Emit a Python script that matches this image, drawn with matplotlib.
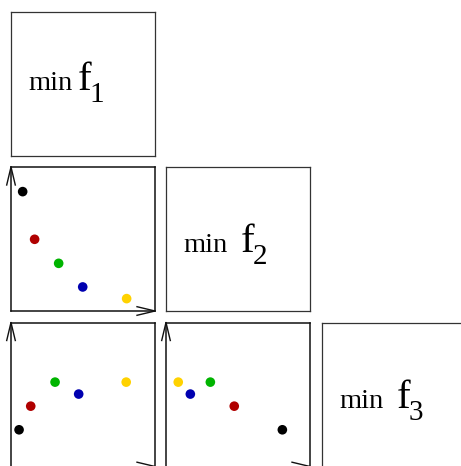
import matplotlib
matplotlib.use("Agg")
import matplotlib.pyplot as plt
from matplotlib.lines import Line2D

W, H = 461, 466

# colours of the five solutions
colors = ["#000000", "#b00000", "#00b400", "#0000b0", "#ffd200"]

# panel (row 2, col 1): x = f1, y = f2
f1_mid = [0.081, 0.164, 0.331, 0.498, 0.803]
f2_mid = [0.829, 0.498, 0.331, 0.167, 0.086]
# panel (row 3, col 1): x = f1, y = f3
f1_bot = [0.056, 0.137, 0.306, 0.470, 0.800]
f3_bot1 = [0.255, 0.419, 0.586, 0.503, 0.586]
# panel (row 3, col 2): x = f2, y = f3
f2_bot = [0.808, 0.474, 0.308, 0.169, 0.085]
f3_bot2 = [0.255, 0.419, 0.586, 0.503, 0.586]

labels = ["1", "2", "3"]

fig = plt.figure(figsize=(W / 100, H / 100), dpi=100)

col_left = [11, 166, 322]
row_top = [12, 167, 322.5]
SIZE = 144


def make_ax(r, c, dark):
    l = col_left[c]
    t = row_top[r]
    ax = fig.add_axes([l / W, (H - t - SIZE) / H, SIZE / W, SIZE / H])
    ax.set_xlim(0, 1)
    ax.set_ylim(0, 1)
    ax.set_xticks([])
    ax.set_yticks([])
    for s in ax.spines.values():
        s.set_linewidth(1.1 if dark else 0.9)
        s.set_color("#111111" if dark else "#333333")
    return ax


def arrows(ax):
    aw = 4.3 / SIZE
    al = 18 / SIZE
    kw = dict(color="#111111", lw=1.0, transform=ax.transAxes, clip_on=False)
    # y-axis arrow (top-left)
    ax.add_line(Line2D([-aw, 0, aw], [1 - al, 1, 1 - al], **kw))
    # x-axis arrow (bottom-right)
    ax.add_line(Line2D([1 - al, 1, 1 - al], [aw, 0, -aw], **kw))


def label(r, c, idx, gap):
    l = col_left[c]
    t = row_top[r]
    fam = "Liberation Serif"
    x0 = l + 17.5
    yb = t + (78 if r == 0 else 85)
    fig.text(x0 / W, 1 - yb / H, "min", family=fam, fontsize=20.5,
             va="baseline", ha="left")
    fx = x0 + 42 + gap
    fig.text(fx / W, 1 - yb / H, "f", family=fam, fontsize=29.5,
             va="baseline", ha="left")
    fig.text((fx + 12) / W, 1 - (yb + 12) / H, labels[idx], family=fam,
             fontsize=21, va="baseline", ha="left")


# diagonal label boxes
for i in range(3):
    make_ax(i, i, False)
label(0, 0, 0, 7)
label(1, 1, 1, 15)
label(2, 2, 2, 15)

# scatter panels
panels = [
    (1, 0, f1_mid, f2_mid),
    (2, 0, f1_bot, f3_bot1),
    (2, 1, f2_bot, f3_bot2),
]
for r, c, xs, ys in panels:
    ax = make_ax(r, c, True)
    ax.scatter(xs, ys, s=48, c=colors, edgecolors="none", zorder=3)
    arrows(ax)

fig.savefig("out.png", dpi=100)
